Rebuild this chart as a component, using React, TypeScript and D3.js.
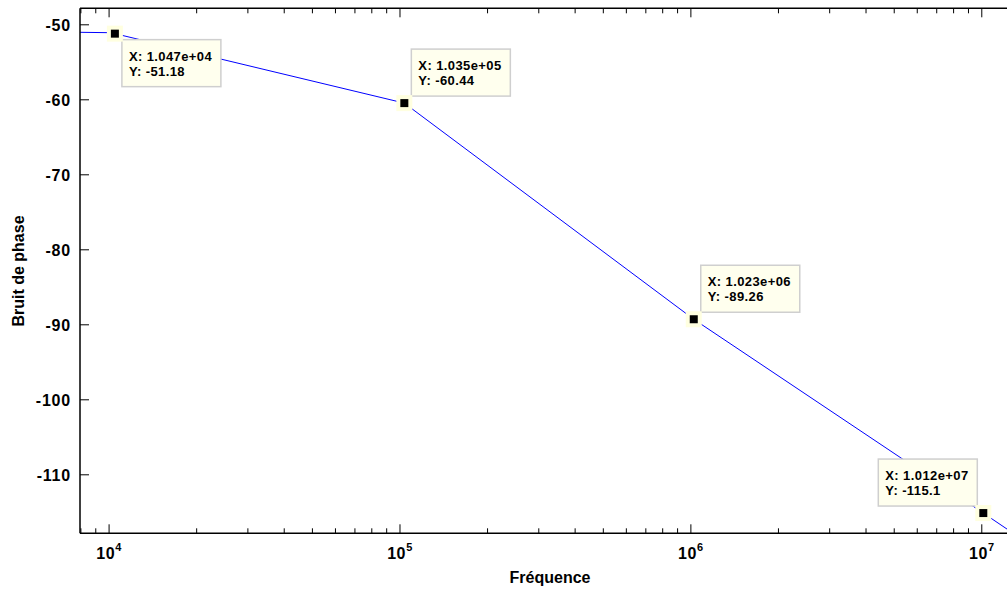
import React from "react";
import * as d3 from "d3";

// Data
const frequencies = [7943, 1.0e4, 1.047e4, 1.035e5, 1.023e6, 1.012e7, 1.413e7];
const phaseNoise = [-51.0, -51.05, -51.18, -60.44, -89.26, -115.1, -118.9];

const tipFreq = [1.047e4, 1.035e5, 1.023e6, 1.012e7];
const tipNoise = [-51.18, -60.44, -89.26, -115.1];
const tipXLabels = ["1.047e+04", "1.035e+05", "1.023e+06", "1.012e+07"];
const tipYLabels = ["-51.18", "-60.44", "-89.26", "-115.1"];
const tipPlacement = ["br", "tr", "tr", "tl"];

const yTicks = [-50, -60, -70, -80, -90, -100, -110];
const xMajorExp = [4, 5, 6, 7];

const xLabel = "Fréquence";
const yLabel = "Bruit de phase";

const W = 1007;
const H = 590;
const FONT = "'Liberation Sans', Arial, Helvetica, sans-serif";

export default function App() {
  const left = 80;
  const top = 8.3;
  const bottom = 533.3;
  const decade = 290.9;
  const xMin = Math.pow(10, 3.9);
  const xMax = Math.pow(10, 7.15);
  const x = d3.scaleLog().domain([xMin, xMax]).range([left, left + 3.25 * decade]);
  const y = d3.scaleLinear().domain([-117.8, -47.8]).range([bottom, top]);
  const right = x(xMax);

  const line = d3
    .line<number>()
    .x((_, i) => x(frequencies[i]))
    .y((d) => y(d));

  const minorTicks: number[] = [];
  for (let e = 3; e <= 7; e++) {
    for (let m = 2; m <= 9; m++) {
      const v = m * Math.pow(10, e);
      if (v > xMin && v < xMax) minorTicks.push(v);
    }
  }

  const boxW = 99;
  const boxH = 47;

  return (
    <svg
      width={W}
      height={H}
      style={{ position: "absolute", left: 0, top: 0, background: "#fff" }}
      fontFamily={FONT}
    >
      <rect x={0} y={0} width={W} height={H} fill="#fff" />
      <defs>
        <clipPath id="plot">
          <rect x={left} y={top} width={right - left} height={bottom - top} />
        </clipPath>
      </defs>

      {/* data line */}
      <path
        d={line(phaseNoise) || ""}
        fill="none"
        stroke="#0000ff"
        strokeWidth={1}
        clipPath="url(#plot)"
      />

      {/* axes box */}
      <line x1={left} x2={right} y1={bottom} y2={bottom} stroke="#000" strokeWidth={1.5} />
      <line x1={left} x2={right} y1={top} y2={top} stroke="#000" strokeWidth={1.5} />
      <line x1={left} x2={left} y1={top} y2={bottom} stroke="#000" strokeWidth={1.5} />
      <line x1={right} x2={right} y1={top} y2={bottom} stroke="#000" strokeWidth={1.5} />

      {/* x ticks */}
      {xMajorExp.map((e) => {
        const px = x(Math.pow(10, e));
        return (
          <g key={"xm" + e}>
            <line x1={px} x2={px} y1={bottom} y2={bottom - 9} stroke="#000" strokeWidth={1} />
            <line x1={px} x2={px} y1={top} y2={top + 9} stroke="#000" strokeWidth={1} />
            <text
              x={px}
              y={559}
              textAnchor="middle"
              fontSize={16}
              fontWeight="bold"
              letterSpacing={0.6}
            >
              10
              <tspan dy={-8} fontSize={11}>
                {e}
              </tspan>
            </text>
          </g>
        );
      })}
      {minorTicks.map((v, i) => {
        const px = x(v);
        return (
          <g key={"xn" + i}>
            <line x1={px} x2={px} y1={bottom} y2={bottom - 5} stroke="#000" strokeWidth={1} />
            <line x1={px} x2={px} y1={top} y2={top + 5} stroke="#000" strokeWidth={1} />
          </g>
        );
      })}

      {/* y ticks */}
      {yTicks.map((t) => {
        const py = y(t);
        return (
          <g key={"y" + t}>
            <line x1={left} x2={left + 9} y1={py} y2={py} stroke="#000" strokeWidth={1} />
            <line x1={right} x2={right - 9} y1={py} y2={py} stroke="#000" strokeWidth={1} />
            <text
              x={71}
              y={py + 6}
              textAnchor="end"
              fontSize={16}
              fontWeight="bold"
              letterSpacing={0.8}
            >
              {t}
            </text>
          </g>
        );
      })}

      {/* axis labels */}
      <text x={550} y={583} textAnchor="middle" fontSize={16} fontWeight="bold">
        {xLabel}
      </text>
      <text
        transform={`translate(24, 271) rotate(-90)`}
        textAnchor="middle"
        fontSize={16}
        fontWeight="bold"
      >
        {yLabel}
      </text>

      {/* data tips */}
      {tipFreq.map((f, i) => {
        const mx = x(f);
        const my = y(tipNoise[i]);
        const p = tipPlacement[i];
        const bx = p[1] === "r" ? mx + 7 : mx - 6 - boxW;
        const by = p[0] === "b" ? my + 6 : my - 7 - boxH;
        return (
          <g key={"tip" + i}>
            <rect
              x={bx}
              y={by}
              width={boxW}
              height={boxH}
              fill="#ffffee"
              stroke="#cfcfcf"
              strokeWidth={1.5}
            />
            <text
              x={bx + 7}
              y={by + 21}
              fontSize={13}
              fontWeight="bold"
              letterSpacing={0.4}
            >
              {"X: " + tipXLabels[i]}
            </text>
            <text
              x={bx + 7}
              y={by + 36}
              fontSize={13}
              fontWeight="bold"
              letterSpacing={0.4}
            >
              {"Y: " + tipYLabels[i]}
            </text>
            <rect x={mx - 8} y={my - 8} width={16} height={16} fill="#ffffe0" />
            <rect x={mx - 4} y={my - 4} width={8} height={8} fill="#000" />
          </g>
        );
      })}
    </svg>
  );
}
